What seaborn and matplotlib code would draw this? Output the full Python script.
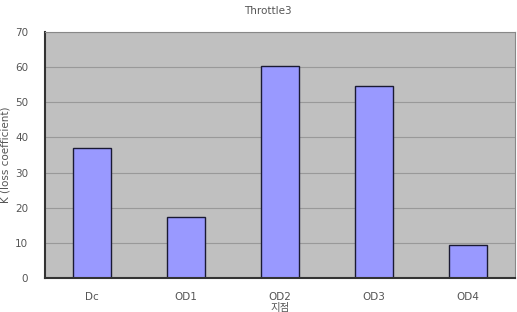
import numpy as np
import matplotlib.pyplot as plt
import seaborn as sns
import pandas as pd

categories = ['Dc', 'OD1', 'OD2', 'OD3', 'OD4']
k_values = [37.0, 17.3, 60.3, 54.7, 9.3]

df = pd.DataFrame({'pos': categories, 'k': k_values})

sns.set_style("white")
plt.rcParams['font.family'] = ['DejaVu Sans', 'Noto Sans CJK KR']

FONT_SIZE = 7.5
TEXT_COLOR = '#555555'

fig = plt.figure(figsize=(5.17, 3.12), dpi=100)
ax = fig.add_axes([45 / 517, 34 / 312, 470 / 517, 246 / 312])

sns.barplot(data=df, x='pos', y='k', color='#9999FF', width=0.4,
            edgecolor='#1a1a33', linewidth=1.0, saturation=1, ax=ax)

ax.set_facecolor('#C0C0C0')
ax.set_xlim(-0.5, len(categories) - 0.5)
ax.set_ylim(0, 70)
ax.set_yticks(np.arange(0, 71, 10))
ax.grid(axis='y', color='#999999', linewidth=0.8)
ax.set_axisbelow(True)

# category boundary ticks, pointing into the plot
ax.set_xticks(np.arange(len(categories)))
ax.set_xticklabels(categories)
ax.set_xticks(np.arange(0.5, len(categories) - 0.5, 1), minor=True)
ax.tick_params(axis='x', which='major', length=0, labelsize=FONT_SIZE,
               labelcolor=TEXT_COLOR, pad=10)
ax.tick_params(axis='x', which='minor', direction='in', length=3,
               width=1, color='black')
ax.tick_params(axis='y', direction='in', length=3, width=1, color='black',
               labelsize=FONT_SIZE, labelcolor=TEXT_COLOR, pad=12)

for side in ['left', 'bottom']:
    ax.spines[side].set_color('#333333')
    ax.spines[side].set_linewidth(1.5)
for side in ['right', 'top']:
    ax.spines[side].set_color('#888888')
    ax.spines[side].set_linewidth(0.8)

ax.set_title('Throttle3', fontsize=FONT_SIZE, color=TEXT_COLOR, pad=13, x=0.474)
ax.set_ylabel('K (loss coefficient)', fontsize=FONT_SIZE, color=TEXT_COLOR)
ax.yaxis.set_label_coords(-0.073, 0.5)
ax.set_xlabel('지점', fontsize=FONT_SIZE, color=TEXT_COLOR, labelpad=1)

fig.savefig('out.png', dpi=100)
plt.close()
